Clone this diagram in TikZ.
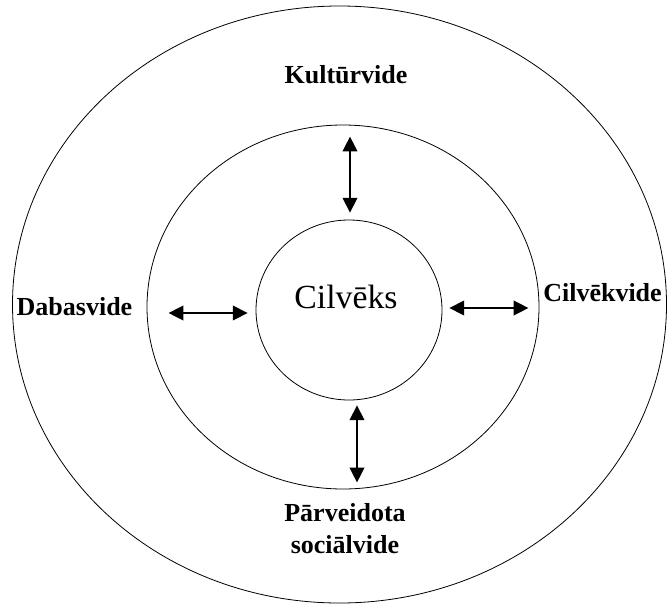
\documentclass[tikz,border=0pt]{standalone}
\usepackage{fontspec}
\setmainfont{Liberation Serif}
\usetikzlibrary{shapes.geometric,arrows.meta}

\begin{document}
\begin{tikzpicture}[x=0.75pt,y=-0.75pt,
        ring/.style={ellipse,draw,line width=0.6pt,inner sep=0pt},
        lbl/.style={align=center,font=\fontsize{19.5}{24}\selectfont\bfseries},
        link/.style={<->,line width=1pt,
                     >={Triangle[length=11pt,width=11pt]}}]
      \useasboundingbox (0,0) rectangle (668,604);
      %% ── Rings (outer, middle, inner); sizes are px*0.75pt ─
      \node[ring,minimum width=490.5pt,minimum height=447.75pt](outer) at(339.5,304.5){};
      \node[ring,minimum width=294pt,minimum height=273pt]   (mid)   at(343,307){};
      \node[ring,minimum width=139.5pt,minimum height=135pt] (inner) at(349,310){};
      %% ── Centre text ──────────────────────────────────────
      \node[font=\fontsize{25.3}{30}\selectfont](man) at(346,297){Cilvēks};
      %% ── Environment labels ───────────────────────────────
      \node[lbl](kult) at(346,75)   {Kultūrvide};
      \node[lbl](daba) at(74.5,307) {Dabasvide};
      \node[lbl](cilv) at(602.5,293){Cilvēkvide};
      \node[lbl](soc)  at(345,529)  {Pārveidota\\sociālvide};
      %% ── Arrows: inner circle <-> middle ring ─────────────
      \draw[link] ([shift={(1,-7)}]inner.north) -- ([shift={(7,12)}]mid.north);
      \draw[link] ([shift={(-8,3)}]inner.west)  -- ([shift={(22,6)}]mid.west);
      \draw[link] ([shift={(7,-2)}]inner.east)  -- ([shift={(-11,1)}]mid.east);
      \draw[link] ([shift={(8,5)}]inner.south)  -- ([shift={(14,-7)}]mid.south);
    \end{tikzpicture}
\end{document}
